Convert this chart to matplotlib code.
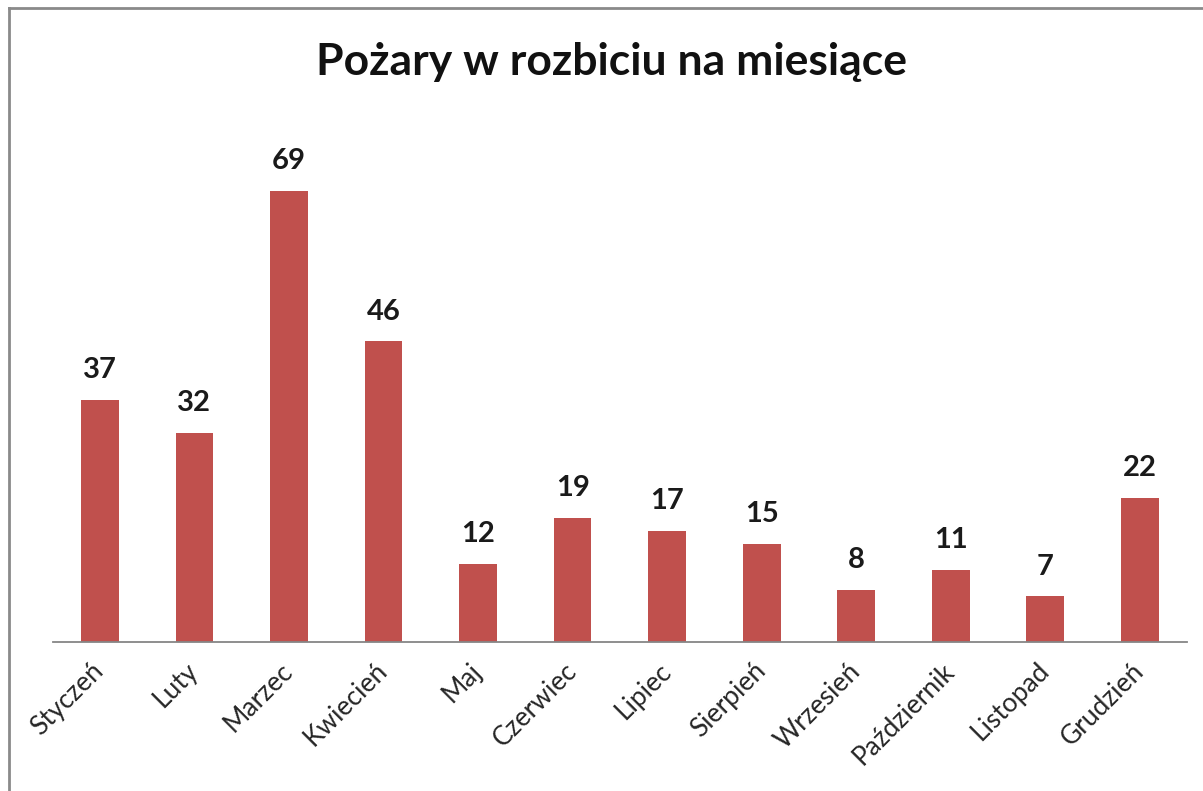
import matplotlib
matplotlib.use("Agg")
import matplotlib.pyplot as plt
from matplotlib.lines import Line2D

plt.rcParams['font.family'] = ['Lato', 'DejaVu Sans']

months = ['Styczeń', 'Luty', 'Marzec', 'Kwiecień', 'Maj', 'Czerwiec',
          'Lipiec', 'Sierpień', 'Wrzesień', 'Październik', 'Listopad', 'Grudzień']
fires = [37, 32, 69, 46, 12, 19, 17, 15, 8, 11, 7, 22]

fig = plt.figure(figsize=(12.03, 7.91), dpi=100)
ax = fig.add_axes([0.0438, 0.1884, 0.9429, 0.6612])

x = range(len(months))
bars = ax.bar(x, fires, width=0.40, color='#C0504D')
for b, v in zip(bars, fires):
    ax.annotate(str(v), (b.get_x() + b.get_width() / 2, v), xytext=(0, 12),
                textcoords='offset points', ha='center', va='bottom',
                fontsize=21, fontweight='bold', color='#1a1a1a')

ax.set_xlim(-0.5, len(months) - 0.5)
ax.set_ylim(0, 80)
ax.set_yticks([])
ax.set_xticks(list(x))
ax.set_xticklabels(months, rotation=45, ha='right', va='center',
                   rotation_mode='anchor', fontsize=19, color='#262626')
ax.tick_params(axis='x', length=0, pad=18)
for s in ['top', 'right', 'left']:
    ax.spines[s].set_visible(False)
ax.spines['bottom'].set_color('#868686')
ax.spines['bottom'].set_linewidth(1.3)

fig.text(0.508, 0.921, 'Pożary w rozbiciu na miesiące', ha='center', va='center',
         fontsize=32, fontweight='bold', color='#111111')

# chart frame (top and left edges visible)
fig.add_artist(Line2D([9 / 1203, 1.0], [1 - 8 / 791, 1 - 8 / 791], color='#8a8a8a', lw=2))
fig.add_artist(Line2D([9 / 1203, 9 / 1203], [0, 1 - 8 / 791], color='#8a8a8a', lw=2))

fig.savefig('out.png', dpi=100)
